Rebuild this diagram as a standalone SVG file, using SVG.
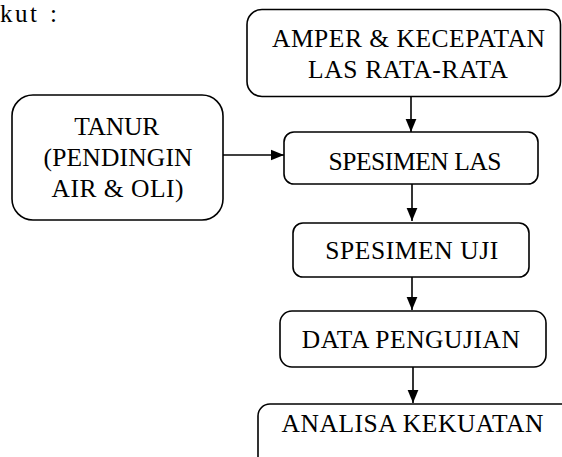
<svg xmlns="http://www.w3.org/2000/svg" width="562" height="457" viewBox="0 0 562 457">
<defs>
<marker id="ah" markerWidth="13" markerHeight="13" viewBox="0 0 17 14" refX="17" refY="7" orient="auto" markerUnits="userSpaceOnUse">
<path d="M0,0 L17,7 L0,14 Z" fill="#000"/>
</marker>
<style>
.box{fill:#fff;stroke:#000;stroke-width:1.6}
.t{font-family:"Liberation Serif","Times New Roman",serif;font-size:25.5px;fill:#000;text-anchor:middle}
.c{stroke:#000;stroke-width:1.6;fill:none;marker-end:url(#ah)}
</style>
</defs>
<rect width="562" height="457" fill="#fff"/>
<text x="0" y="22" style="font-family:'Liberation Serif','Times New Roman',serif;font-size:25px" textLength="37">kut</text>
<text x="50" y="22" style="font-family:'Liberation Serif','Times New Roman',serif;font-size:25px">:</text>
<g id="amper">
<rect class="box" x="247" y="9.5" width="313.5" height="87" rx="15"/>
<text class="t" x="408.5" y="47" textLength="273">AMPER &amp; KECEPATAN</text>
<text class="t" x="408" y="78" textLength="200">LAS RATA-RATA</text>
</g>
<g id="tanur">
<rect class="box" x="12" y="95" width="211" height="125" rx="21"/>
<text class="t" x="116.7" y="135" textLength="85">TANUR</text>
<text class="t" x="118" y="166" textLength="149">(PENDINGIN</text>
<text class="t" x="117.5" y="197" textLength="132">AIR &amp; OLI)</text>
</g>
<g id="spesimen-las">
<rect class="box" x="284" y="132" width="254" height="52" rx="10"/>
<text class="t" x="415" y="170" textLength="173">SPESIMEN LAS</text>
</g>
<g id="spesimen-uji">
<rect class="box" x="293" y="223" width="236" height="54" rx="10"/>
<text class="t" x="411.7" y="259" textLength="173">SPESIMEN UJI</text>
</g>
<g id="data-pengujian">
<rect class="box" x="280" y="311" width="266" height="56" rx="12"/>
<text class="t" x="410.8" y="348" textLength="218">DATA PENGUJIAN</text>
</g>
<g id="analisa">
<rect class="box" x="258" y="404" width="320" height="80" rx="12"/>
<text class="t" x="412.5" y="432" textLength="262">ANALISA KEKUATAN</text>
</g>
<g id="connectors">
<line class="c" x1="411" y1="97" x2="411" y2="132"/>
<line class="c" x1="223" y1="155" x2="284" y2="155"/>
<line class="c" x1="412" y1="184" x2="412" y2="221"/>
<line class="c" x1="412" y1="277" x2="412" y2="310"/>
<line class="c" x1="413" y1="367" x2="413" y2="403"/>
</g>
</svg>
